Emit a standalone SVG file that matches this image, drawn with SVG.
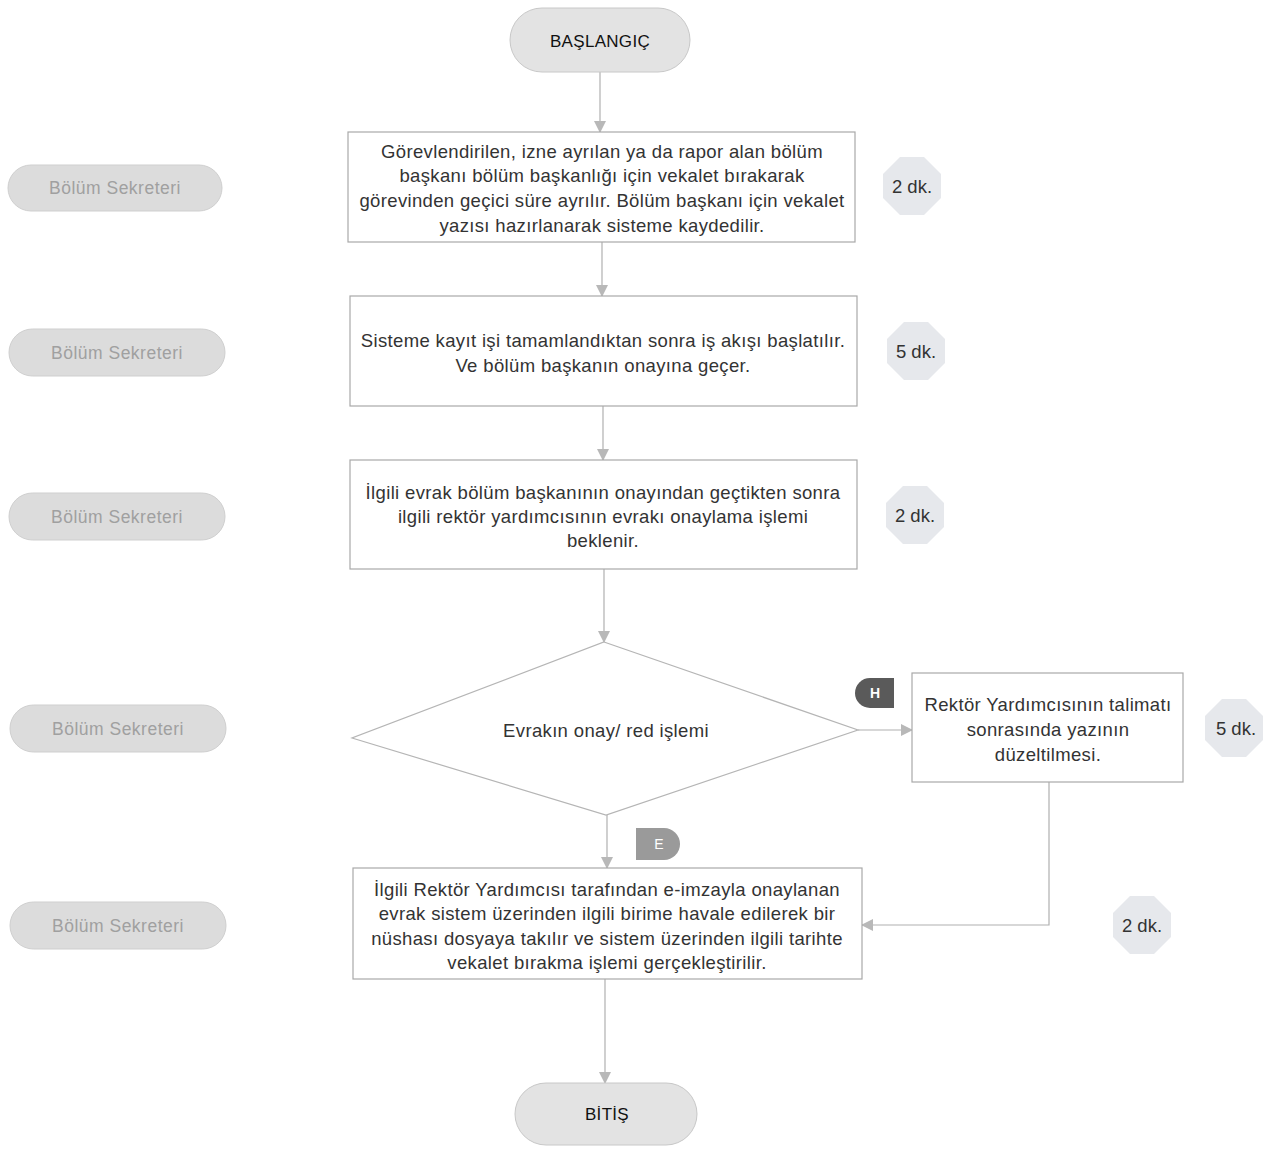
<svg xmlns="http://www.w3.org/2000/svg" width="1265" height="1154" viewBox="0 0 1265 1154">
<defs>
<style>
.term{fill:#e3e3e3;stroke:#c8c8c8;stroke-width:1}
.termt{font-family:"Liberation Sans",Arial,sans-serif;font-size:17px;fill:#111;text-anchor:middle;letter-spacing:0.3px}
.box{fill:#fff;stroke:#a9a9a9;stroke-width:1.2}
.bt{font-family:"Liberation Sans",Arial,sans-serif;font-size:18.5px;fill:#333;text-anchor:middle;letter-spacing:0.35px}
.lane{fill:#dcdcdc;stroke:#cfcfcf;stroke-width:1}
.lt{font-family:"Liberation Sans",Arial,sans-serif;font-size:17.5px;fill:#a0a0a0;text-anchor:middle;letter-spacing:0.5px}
.oct{fill:#e6e8ec;stroke:none}
.ot{font-family:"Liberation Sans",Arial,sans-serif;font-size:18.5px;fill:#333;text-anchor:middle}
.con{fill:none;stroke:#b0b0b0;stroke-width:1.2}
.mk{font-family:"Liberation Sans",Arial,sans-serif;font-size:14px;fill:#fff;text-anchor:middle;font-weight:bold}
</style>
<marker id="arr" viewBox="0 0 12 12" refX="11" refY="6" markerWidth="12" markerHeight="12" markerUnits="userSpaceOnUse" orient="auto">
<path d="M0,0 L12,6 L0,12 Z" fill="#b8b8b8"/>
</marker>
</defs>

<g id="connectors">
<path class="con" d="M600,72 V132" marker-end="url(#arr)"/>
<path class="con" d="M602,242 V296" marker-end="url(#arr)"/>
<path class="con" d="M603,406 V460" marker-end="url(#arr)"/>
<path class="con" d="M604,569 V642" marker-end="url(#arr)"/>
<path class="con" d="M858,730 H912" marker-end="url(#arr)"/>
<path class="con" d="M607,815 V868" marker-end="url(#arr)"/>
<path class="con" d="M1049,782 V925 H862" marker-end="url(#arr)"/>
<path class="con" d="M605,979 V1083" marker-end="url(#arr)"/>
</g>

<g id="start">
<rect class="term" x="510" y="8" width="180" height="64" rx="32"/>
<text class="termt" x="600" y="47">BAŞLANGIÇ</text>
</g>

<g id="step1">
<rect class="box" x="348" y="132" width="507" height="110"/>
<text class="bt" x="602" y="158">Görevlendirilen, izne ayrılan ya da rapor alan bölüm</text>
<text class="bt" x="602" y="182">başkanı bölüm başkanlığı için vekalet bırakarak</text>
<text class="bt" x="602" y="207">görevinden geçici süre ayrılır. Bölüm başkanı için vekalet</text>
<text class="bt" x="602" y="232">yazısı hazırlanarak sisteme kaydedilir.</text>
</g>

<g id="step2">
<rect class="box" x="350" y="296" width="507" height="110"/>
<text class="bt" x="603" y="347">Sisteme kayıt işi tamamlandıktan sonra iş akışı başlatılır.</text>
<text class="bt" x="603" y="372">Ve bölüm başkanın  onayına geçer.</text>
</g>

<g id="step3">
<rect class="box" x="350" y="460" width="507" height="109"/>
<text class="bt" x="603" y="499">İlgili evrak bölüm başkanının onayından geçtikten sonra</text>
<text class="bt" x="603" y="523">ilgili rektör yardımcısının evrakı onaylama işlemi</text>
<text class="bt" x="603" y="547">beklenir.</text>
</g>

<g id="decision">
<polygon points="604,642 858,730 606,815 352,738" fill="#fff" stroke="#b5b5b5" stroke-width="1.2"/>
<text class="bt" x="606" y="737">Evrakın onay/ red işlemi</text>
</g>

<g id="marker-h">
<path d="M894,678 V708 H870 A15,15 0 0 1 870,678 Z" fill="#5a5a5a"/>
<text class="mk" x="875" y="698">H</text>
</g>

<g id="marker-e">
<path d="M636,828 H664 A16,16 0 0 1 664,860 H636 Z" fill="#9a9a9a"/>
<text class="mk" x="659" y="849" style="font-weight:normal">E</text>
</g>

<g id="correction">
<rect class="box" x="912" y="673" width="271" height="109"/>
<text class="bt" x="1048" y="711">Rektör Yardımcısının talimatı</text>
<text class="bt" x="1048" y="736">sonrasında yazının</text>
<text class="bt" x="1048" y="761">düzeltilmesi.</text>
</g>

<g id="step4">
<rect class="box" x="353" y="868" width="509" height="111"/>
<text class="bt" x="607" y="896">İlgili Rektör Yardımcısı tarafından e-imzayla onaylanan</text>
<text class="bt" x="607" y="920">evrak sistem üzerinden ilgili birime havale edilerek bir</text>
<text class="bt" x="607" y="945">nüshası dosyaya takılır ve sistem üzerinden ilgili tarihte</text>
<text class="bt" x="607" y="969">vekalet bırakma işlemi gerçekleştirilir.</text>
</g>

<g id="end">
<rect class="term" x="515" y="1083" width="182" height="62" rx="31"/>
<text class="termt" x="607" y="1120">BİTİŞ</text>
</g>

<g id="lane1"><rect class="lane" x="8" y="165" width="214" height="46" rx="23"/><text class="lt" x="115" y="194">Bölüm Sekreteri</text></g>
<g id="lane2"><rect class="lane" x="9" y="329" width="216" height="47" rx="23.5"/><text class="lt" x="117" y="359">Bölüm Sekreteri</text></g>
<g id="lane3"><rect class="lane" x="9" y="493" width="216" height="47" rx="23.5"/><text class="lt" x="117" y="523">Bölüm Sekreteri</text></g>
<g id="lane4"><rect class="lane" x="10" y="705" width="216" height="47" rx="23.5"/><text class="lt" x="118" y="735">Bölüm Sekreteri</text></g>
<g id="lane5"><rect class="lane" x="10" y="902" width="216" height="47" rx="23.5"/><text class="lt" x="118" y="932">Bölüm Sekreteri</text></g>

<g id="time1"><polygon class="oct" points="900,157 924,157 941,174 941,198 924,215 900,215 883,198 883,174"/><text class="ot" x="912" y="193">2 dk.</text></g>
<g id="time2"><polygon class="oct" points="904,322 928,322 945,339 945,363 928,380 904,380 887,363 887,339"/><text class="ot" x="916" y="358">5 dk.</text></g>
<g id="time3"><polygon class="oct" points="903,486 927,486 944,503 944,527 927,544 903,544 886,527 886,503"/><text class="ot" x="915" y="522">2 dk.</text></g>
<g id="time4"><polygon class="oct" points="1222,699 1246,699 1263,716 1263,740 1246,757 1222,757 1205,740 1205,716"/><text class="ot" x="1236" y="735">5 dk.</text></g>
<g id="time5"><polygon class="oct" points="1130,896 1154,896 1171,913 1171,937 1154,954 1130,954 1113,937 1113,913"/><text class="ot" x="1142" y="932">2 dk.</text></g>
</svg>
